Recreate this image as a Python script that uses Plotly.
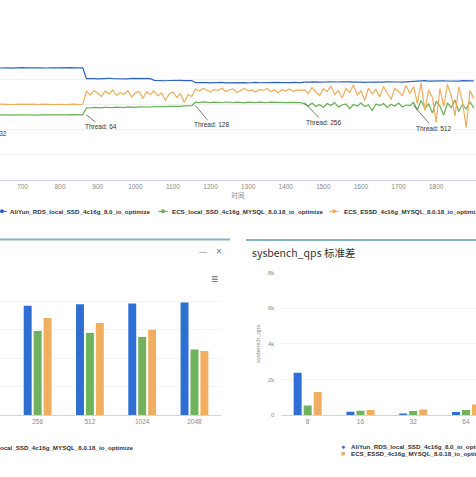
import plotly.graph_objects as go

W, H = 476, 477

# ---------------- data ----------------
seconds = list(range(640, 1901, 10))

blue_t32 = [22280, 22350, 22310, 22260, 22330, 22300, 22370, 22290, 22320, 22250, 22340, 22300,
            22280, 22360, 22310, 22290, 22330, 22270, 22320, 22350, 22300, 22280, 22310]
blue_t64 = [20150, 20220, 20170, 20130, 20200, 20160, 20230, 20180, 20140, 20210, 20190, 20120,
            20200, 20170, 20150, 20230, 20180, 20160, 19820, 19760, 19800, 19740, 19790, 19830,
            19770, 19810, 19750, 19800, 19780]
blue_t128 = [19380, 19320, 19410, 19350, 19300, 19390, 19360, 19420, 19330, 19370, 19310, 19400,
             19350, 19380, 19290, 19360, 19410, 19340, 19380, 19320, 19390, 19350, 19430, 19360,
             19310, 19380, 19400, 19340, 19370]
blue_t256 = [19470, 19530, 19450, 19510, 19480, 19420, 19500, 19540, 19460, 19490, 19520, 19440,
             19500, 19470, 19530, 19480, 19410, 19510, 19490, 19460, 19530, 19480, 19500, 19450,
             19520, 19490, 19470, 19540, 19480]
blue_t512 = [19660, 19720, 19680, 19740, 19650, 19700, 19730, 19670, 19710, 19690, 19640, 19720,
             19680, 19750, 19690, 19660, 19710]

orange_t32 = [15080, 15020, 15110, 15050, 14980, 15090, 15040, 15130, 15010, 15070, 14950, 15060,
              15100, 15030, 14990, 15080, 15050, 14970, 15060, 15020, 15090, 14980, 15040]
orange_t64 = [17600, 16900, 17800, 17300, 16600, 17700, 17100, 17900, 16800, 17400, 17000, 17800,
              16500, 17300, 17600, 16200, 17500, 17000, 17700, 16700, 17300, 15800, 17100, 17500,
              16400, 17200, 15400, 17000, 16600]
orange_t128 = [18100, 17700, 18200, 17900, 17500, 18000, 17800, 18300, 17600, 17900, 18100, 17400,
               17800, 18200, 17700, 17900, 17500, 18000, 17800, 18200, 17600, 17900, 17300, 18000,
               17700, 18100, 17600, 17900, 17800]
orange_t256 = [17900, 17200, 18400, 17500, 16800, 18100, 17600, 18700, 17000, 17800, 16300, 18200,
               17400, 18900, 16900, 17700, 15800, 18300, 17100, 18000, 16500, 18600, 17300, 16000,
               18200, 17600, 16700, 18800, 17200]
orange_t512 = [18600, 15200, 19300, 13800, 17900, 16400, 11500, 18200, 14600, 19000, 16800, 12700,
               18500, 15600, 10400, 17800, 16200]

green_t32 = [12950, 12900, 12970, 12920, 12880, 12960, 12930, 12990, 12910, 12940, 12870, 12950,
             12920, 12980, 12900, 12940, 12960, 12890, 12930, 12970, 12910, 12950, 12930]
green_t64 = [14350, 14300, 14420, 14380, 14330, 14450, 14400, 14360, 14480, 14420, 14390, 14510,
             14460, 14410, 14530, 14480, 14550, 14500, 14590, 14540, 14620, 14570, 14650, 14600,
             14700, 14640, 14730, 14690, 14760]
green_t128 = [15450, 15380, 15520, 15410, 15360, 15480, 15430, 15350, 15500, 15420, 15380, 15470,
              15400, 15340, 15490, 15430, 15370, 15460, 15410, 15350, 15480, 15420, 15390, 15450,
              15360, 15430, 15400, 15470, 15380]
green_t256 = [15100, 14700, 15300, 14600, 15000, 14400, 15200, 14800, 15400, 14500, 14900, 15100,
              14200, 15000, 14700, 15300, 14600, 14900, 13800, 15100, 14800, 15200, 14400, 15000,
              14700, 15300, 14500, 14900, 14800]
green_t512 = [15400, 13900, 15800, 14200, 15100, 13300, 15600, 14700, 12900, 15300, 14400, 15900,
              13600, 15000, 14100, 15500, 14300]

qps_blue = blue_t32 + blue_t64 + blue_t128 + blue_t256 + blue_t512
qps_orange = orange_t32 + orange_t64 + orange_t128 + orange_t256 + orange_t512
qps_green = green_t32 + green_t64 + green_t128 + green_t256 + green_t512

thread_counts = [32, 64, 128, 256, 512]
thread_start = [580, 870, 1160, 1450, 1740]

series_names = ["AliYun_RDS_local_SSD_4c16g_8.0_io_optimize",
                "ECS_local_SSD_4c16g_MYSQL_8.0.18_io_optimize",
                "ECS_ESSD_4c16g_MYSQL_8.0.18_io_optimize"]

avg_threads = ["256", "512", "1024", "2048"]
avg_blue = [19160, 19460, 19580, 19750]
avg_green = [14730, 14380, 13690, 11490]
avg_orange = [17030, 16160, 14950, 11260]

std_threads = ["8", "16", "32", "64"]
std_blue = [2380, 180, 90, 170]
std_green = [530, 240, 230, 280]
std_orange = [1290, 280, 310, 590]

std_ticks = [0, 2000, 4000, 6000, 8000]
std_ticktext = ["0", "2k", "4k", "6k", "8k"]

# ---------------- style ----------------
C_BLUE = "#2f6fd3"
C_GREEN = "#6fb35c"
C_ORANGE = "#f0ae5e"
LINE_COLORS = ["#3163bd", "#6aae55", "#efad5c"]
FONT = "Arial, 'Liberation Sans', 'Noto Sans CJK SC', sans-serif"
CJK = "'Noto Sans CJK SC', Arial, sans-serif"


def px_x(p):
    return p / W


def px_y(p):
    return 1 - p / H


fig = go.Figure()

# top line chart
for name, vals, col in zip(series_names, [qps_blue, qps_green, qps_orange], LINE_COLORS):
    fig.add_trace(go.Scatter(x=seconds, y=vals, mode="lines", name=name,
                             line=dict(color=col, width=1.2), showlegend=False,
                             xaxis="x", yaxis="y"))

# bottom-left bar chart (avg qps)
for name, vals, col in zip(series_names, [avg_blue, avg_green, avg_orange], [C_BLUE, C_GREEN, C_ORANGE]):
    fig.add_trace(go.Bar(x=avg_threads, y=vals, name=name, marker=dict(color=col, line=dict(width=0)),
                         showlegend=False, xaxis="x2", yaxis="y2"))

# bottom-right bar chart (qps std)
for name, vals, col in zip(series_names, [std_blue, std_green, std_orange], [C_BLUE, C_GREEN, C_ORANGE]):
    fig.add_trace(go.Bar(x=std_threads, y=vals, name=name, marker=dict(color=col, line=dict(width=0)),
                         showlegend=False, xaxis="x3", yaxis="y3"))

ppx = 0.376  # px per second on the top chart
x0 = 640
x1 = x0 + W / ppx

fig.update_layout(
    width=W, height=H, margin=dict(l=0, r=0, t=0, b=0),
    paper_bgcolor="white", plot_bgcolor="white",
    font=dict(family=FONT, size=7, color="#666"),
    bargap=0.43, bargroupgap=0.2, barmode="group",
    xaxis=dict(domain=[0, 1], anchor="y", range=[x0, x1], tickvals=list(range(700, 1901, 100)),
               tickfont=dict(size=6.5, color="#8a8a8a"), showgrid=False, showline=True,
               linecolor="#ccd6eb", linewidth=1, ticks="", zeroline=False,
               title=dict(text="时间", font=dict(size=6.5, color="#8a8a8a", family=CJK), standoff=3)),
    yaxis=dict(domain=[px_y(179), px_y(52)], anchor="x", range=[0, 25000], dtick=5000,
               showticklabels=False, gridcolor="#f0f0f0", gridwidth=1, zeroline=False),
    xaxis2=dict(domain=[0, px_x(220.6)], anchor="y2", type="category", range=[-0.72, 3.5],
                tickfont=dict(size=6.5, color="#8a8a8a"), showline=True, linecolor="#ccd6eb",
                ticks="", showgrid=False),
    yaxis2=dict(domain=[px_y(417.3), px_y(273)], anchor="x2", range=[0, 25000],
                tickvals=[0, 5000, 10000, 15000, 20000, 25000], showticklabels=False,
                gridcolor="#f3f3f3", zeroline=False),
    xaxis3=dict(domain=[px_x(281.3), 1], anchor="y3", type="category", range=[-0.5, 3.19],
                tickfont=dict(size=6.5, color="#8a8a8a"), showline=True, linecolor="#ccd6eb",
                ticks="", showgrid=False),
    yaxis3=dict(domain=[px_y(417.3), px_y(273)], anchor="x3", range=[0, 8000],
                tickvals=std_ticks, ticktext=std_ticktext, tickfont=dict(size=6, color="#8a8a8a"),
                gridcolor="#f3f3f3", zeroline=False, ticklabelstandoff=6,
                title=dict(text="sysbench_qps", font=dict(size=6, color="#8a8a8a"), standoff=6)),
)

ann = []
shapes = []

# thread annotations on the top chart
offsets = [(0, 0), (15, 12), (16, 19), (19, 20), (20, 23)]
for tc, ts, (ax, ay) in zip(thread_counts, thread_start, offsets):
    label = f"Thread: {tc}"
    if ts < x0:
        ann.append(dict(x=px_x(9), y=px_y(132), xref="paper", yref="paper", text=label,
                        showarrow=False, xanchor="right", yanchor="middle",
                        font=dict(size=6.5, color="#333")))
    else:
        idx = seconds.index(ts) - 1
        ann.append(dict(x=ts, y=qps_green[idx], xref="x", yref="y", text=label,
                        showarrow=True, arrowhead=0, arrowwidth=0.8, arrowcolor="#555",
                        ax=ax, ay=ay, font=dict(size=6.5, color="#333")))

# top legend (drawn as text + symbol shapes)
legend_items = [(2, 8), (163, 170), (334, 342)]
for (sx, tx), name, col in zip(legend_items, series_names, LINE_COLORS):
    yy = 211
    shapes.append(dict(type="line", xref="paper", yref="paper", x0=px_x(sx - 5), x1=px_x(sx + 5),
                       y0=px_y(yy), y1=px_y(yy), line=dict(color=col, width=1)))
    shapes.append(dict(type="circle", xref="paper", yref="paper", x0=px_x(sx - 2), x1=px_x(sx + 2),
                       y0=px_y(yy + 2), y1=px_y(yy - 2), fillcolor=col, line=dict(width=0)))
    ann.append(dict(x=px_x(tx), y=px_y(yy), xref="paper", yref="paper", text=f"<b>{name}</b>",
                    showarrow=False, xanchor="left", yanchor="middle",
                    font=dict(size=6.2, color="#333")))

# panel borders
shapes.append(dict(type="line", xref="paper", yref="paper", x0=0, x1=px_x(230), y0=px_y(239.5),
                   y1=px_y(239.5), line=dict(color="#86b3c2", width=2)))
shapes.append(dict(type="line", xref="paper", yref="paper", x0=px_x(246), x1=1, y0=px_y(240),
                   y1=px_y(240), line=dict(color="#86b3c2", width=2)))

# left panel controls
ann.append(dict(x=px_x(203), y=px_y(252), xref="paper", yref="paper", text="—", showarrow=False,
                font=dict(size=8, color="#777")))
ann.append(dict(x=px_x(219), y=px_y(252), xref="paper", yref="paper", text="×", showarrow=False,
                font=dict(size=10, color="#777")))
ann.append(dict(x=px_x(214), y=px_y(280), xref="paper", yref="paper", text="≡", showarrow=False,
                font=dict(size=12, color="#666")))

# right panel title
ann.append(dict(x=px_x(250), y=px_y(253), xref="paper", yref="paper", text="sysbench_qps 标准差",
                showarrow=False, xanchor="left", yanchor="middle",
                font=dict(size=10.5, color="#333", family=CJK)))

# left panel legend (partially visible)
ann.append(dict(x=px_x(136), y=px_y(450), xref="paper", yref="paper", text=f"<b>{series_names[1]}</b>",
                showarrow=False, xanchor="right", yanchor="middle", font=dict(size=6.2, color="#333")))

# right panel legend
for (yy, sym), name, col in zip([(449.3, "●"), (456.7, "■")], [series_names[0], series_names[2]],
                                [C_BLUE, C_ORANGE]):
    ann.append(dict(x=px_x(342.5), y=px_y(yy), xref="paper", yref="paper", text=sym,
                    showarrow=False, xanchor="center", yanchor="middle", font=dict(size=7, color=col)))
    ann.append(dict(x=px_x(349), y=px_y(yy), xref="paper", yref="paper", text=f"<b>{name}</b>",
                    showarrow=False, xanchor="left", yanchor="middle", font=dict(size=6.2, color="#333")))

fig.update_layout(annotations=ann, shapes=shapes)

fig.write_html("out.html", config={"displayModeBar": False},
               post_script="document.body.style.margin='0';document.body.style.overflow='hidden';")
